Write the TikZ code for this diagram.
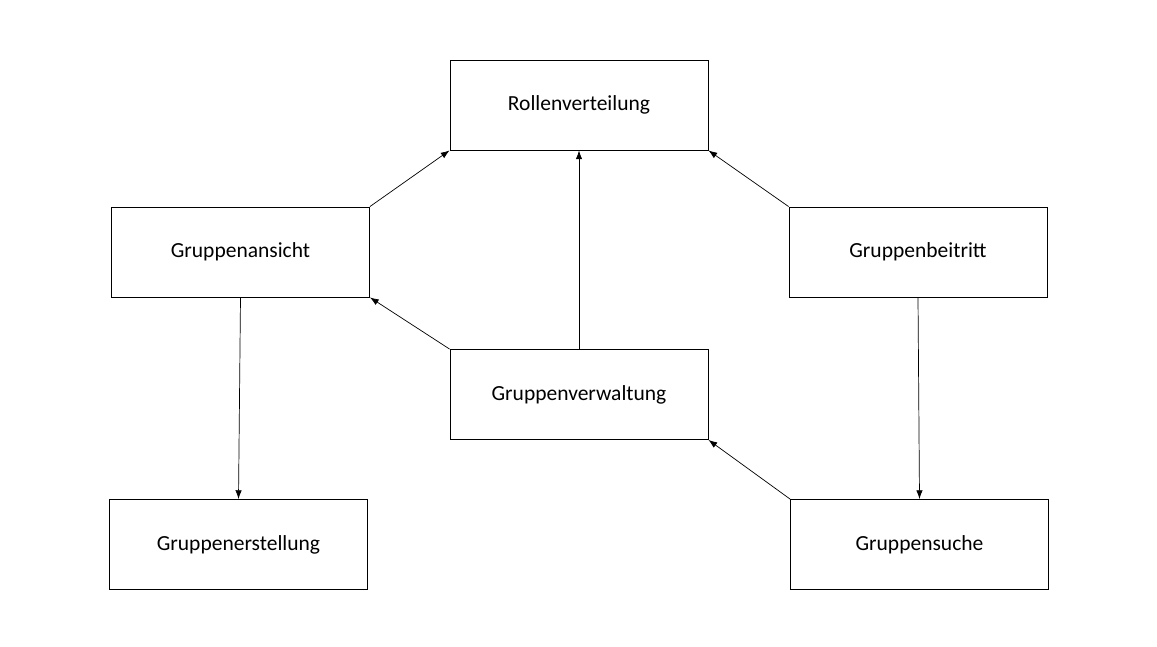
\documentclass[tikz,border=0pt]{standalone}
\usepackage{fontspec}
\setmainfont{Carlito}
\usepackage{tikz}
\usetikzlibrary{arrows.meta, positioning}

\begin{document}
\begin{tikzpicture}[
    box/.style={rectangle, draw=black, line width=0.6pt, fill=white, minimum width=6.45cm, minimum height=2.25cm, align=center, font=\fontsize{15.3}{18}\selectfont},
    arrow/.style={-{Latex[length=2.2mm, width=1.6mm]}, line width=0.5pt, black}
]

\useasboundingbox (0,0) rectangle (28.925,16.175);

% Top
\node[box] (rollen) at (14.475, 13.55) {Rollenverteilung};

% Middle row
\node[box] (ansicht) at (6.0125, 9.875) {Gruppenansicht};
\node[box] (beitritt) at (22.95, 9.875) {Gruppenbeitritt};
\node[box] (verwaltung) at (14.475, 6.3125) {Gruppenverwaltung};

% Bottom row
\node[box] (erstellung) at (5.9625, 2.5625) {Gruppenerstellung};
\node[box] (suche) at (22.9875, 2.5625) {Gruppensuche};

% Arrows into Rollenverteilung
\draw[arrow] (ansicht.north east) -- (rollen.south west);
\draw[arrow] (verwaltung.north) -- (rollen.south);
\draw[arrow] (beitritt.north west) -- (rollen.south east);

% Other arrows
\draw[arrow] (verwaltung.north west) -- (ansicht.south east);
\draw[arrow] (ansicht.south) -- (erstellung.north);
\draw[arrow] (beitritt.south) -- (suche.north);
\draw[arrow] (suche.north west) -- (verwaltung.south east);

\end{tikzpicture}
\end{document}
